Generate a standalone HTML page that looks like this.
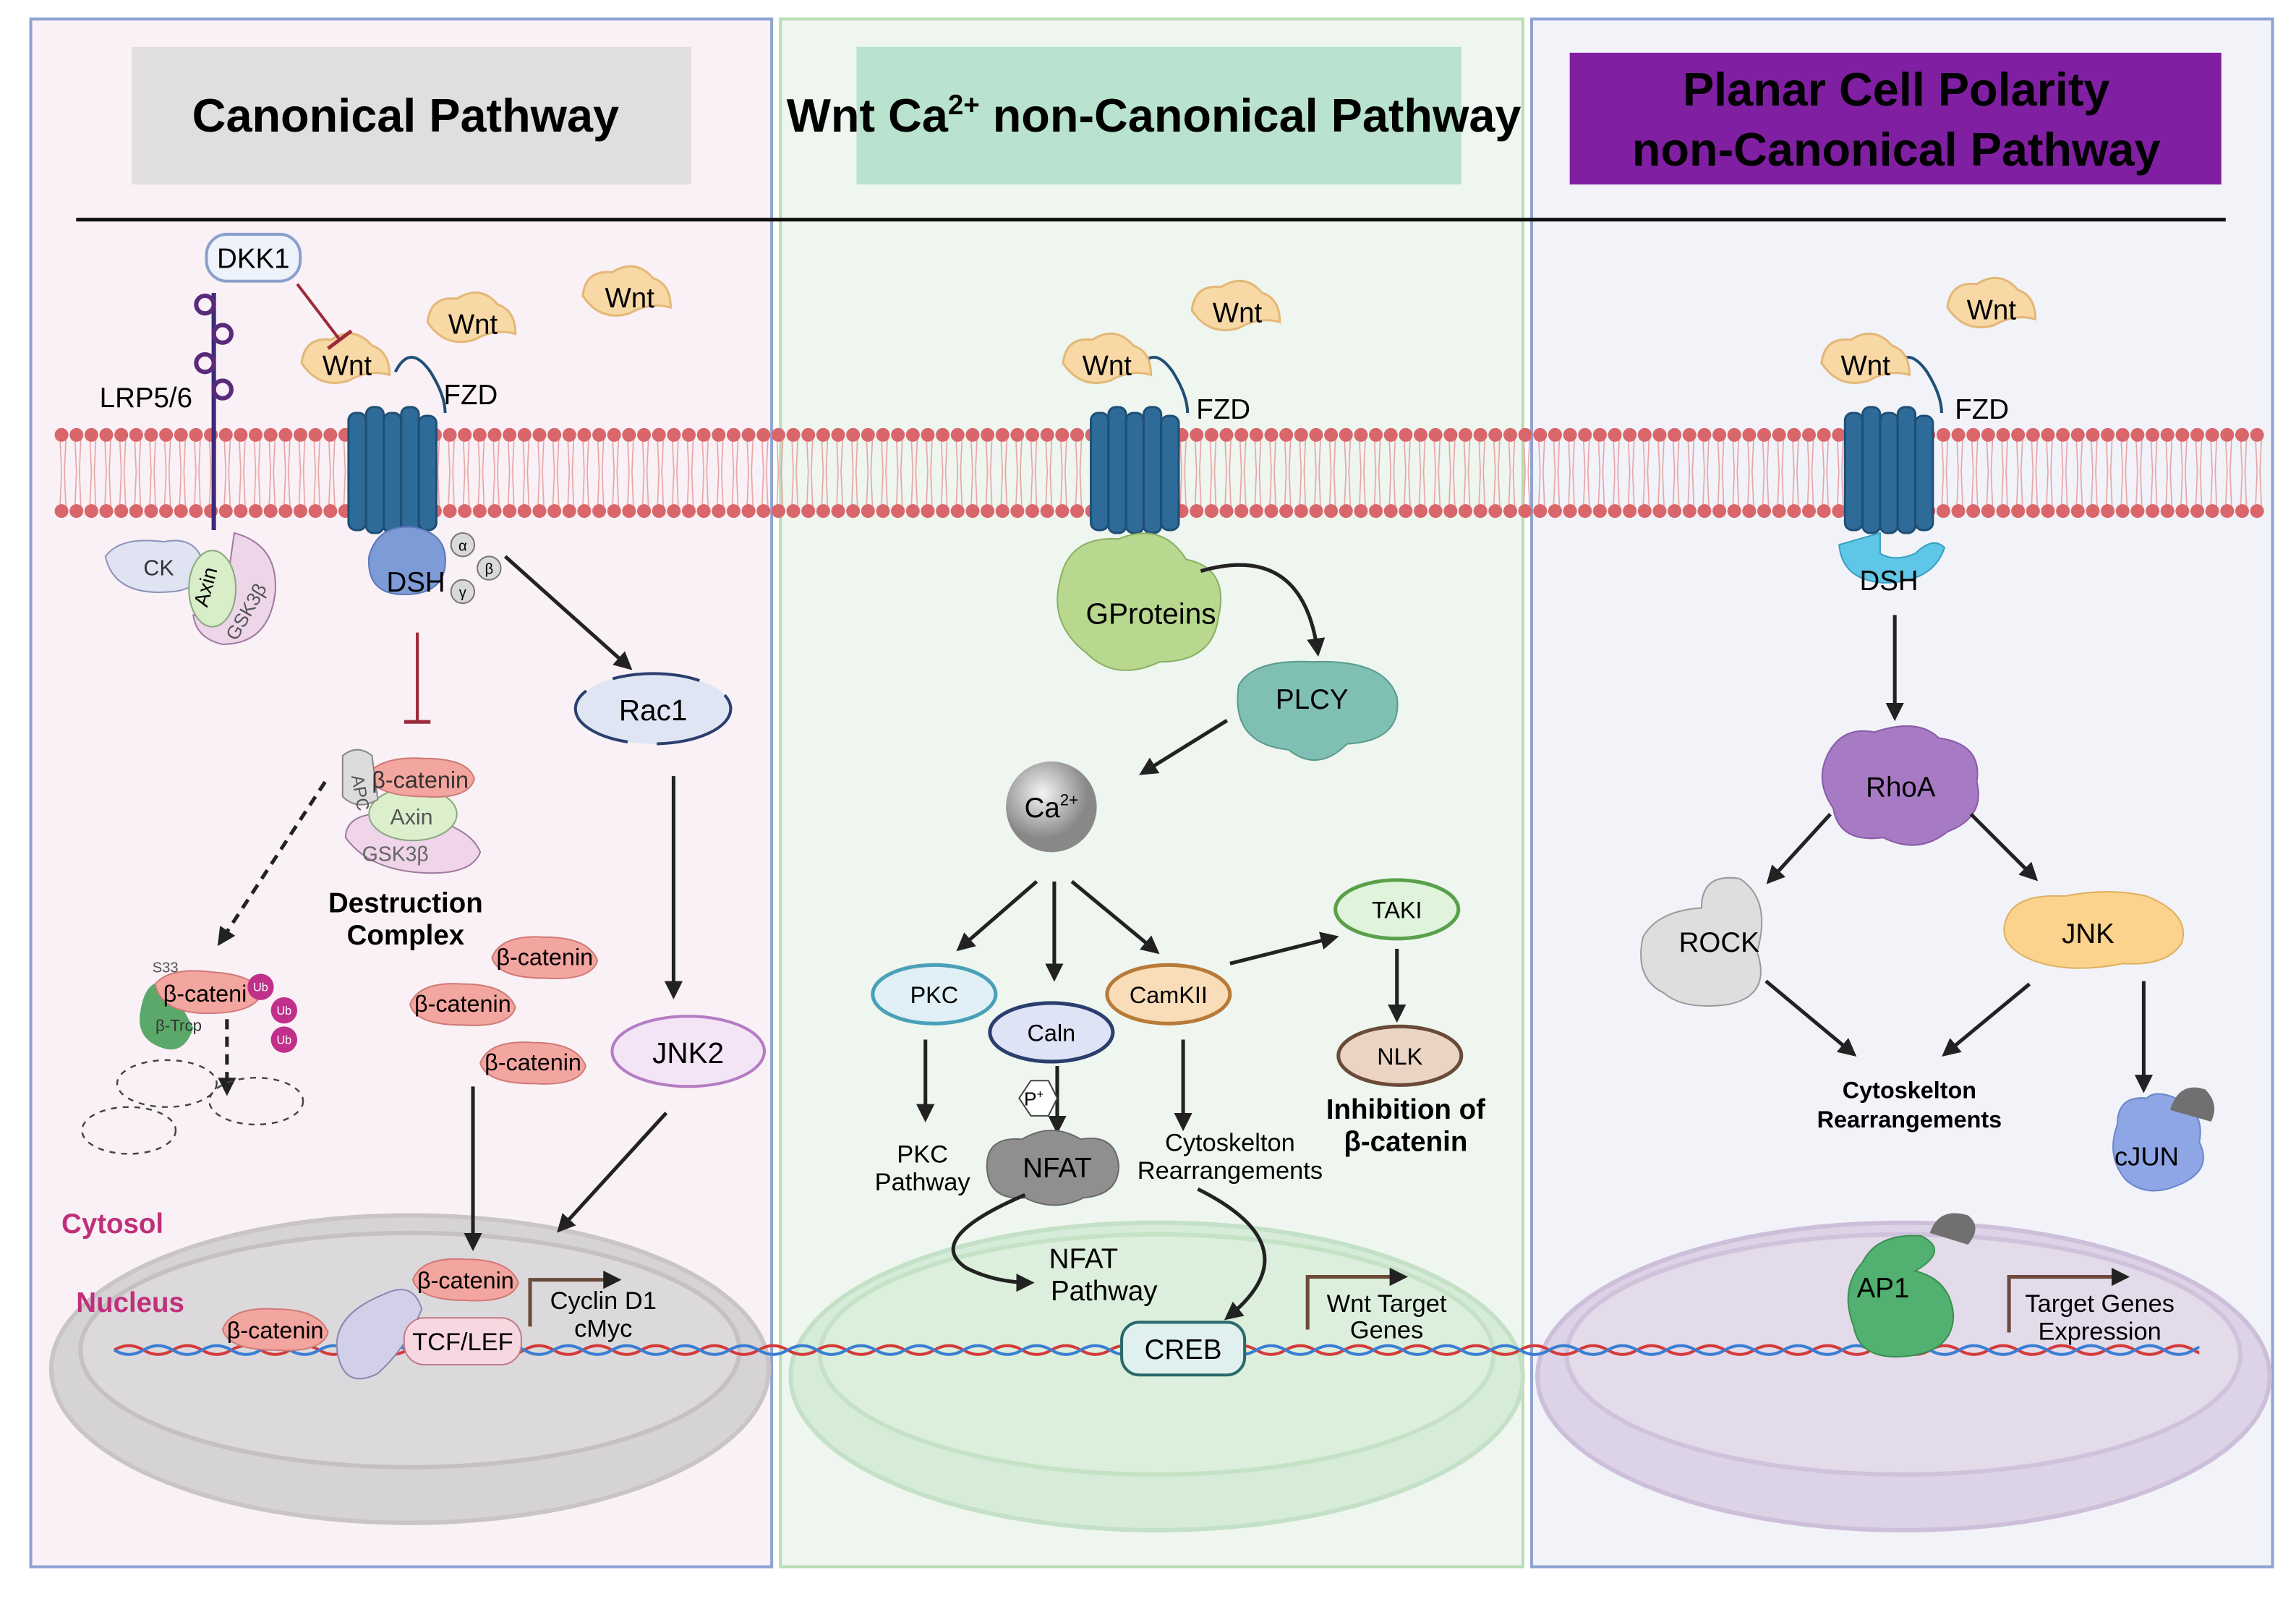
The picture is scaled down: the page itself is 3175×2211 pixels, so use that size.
<!DOCTYPE html>
<html><head><meta charset="utf-8"><style>
html,body{margin:0;padding:0;background:#fff;}
svg{display:block;}
text{font-family:"Liberation Sans",sans-serif;}
</style></head><body>
<svg width="3175" height="2211" viewBox="0 0 1568 1092" preserveAspectRatio="none" xmlns="http://www.w3.org/2000/svg">
<defs>
<marker id="ah" viewBox="0 0 10 10" refX="8" refY="5" markerWidth="5" markerHeight="5" orient="auto"><path d="M0,0 L10,5 L0,10 z" fill="#222"/></marker>
<pattern id="tails" x="38" y="300" width="10.2" height="46" patternUnits="userSpaceOnUse">
<path d="M3,0 L4,22 L3,46 M7,0 L6,22 L7,46" stroke="#e6a3a5" stroke-width="0.8" fill="none"/>
</pattern>
<clipPath id="dnaclip"><rect x="70" y="900" width="1432" height="50"/></clipPath>
</defs>
<rect width="1568" height="1092" fill="#fff"/>
<!-- panels -->
<rect x="21" y="13" width="506" height="1057" fill="#f9f1f6" stroke="#8fa4d4" stroke-width="2"/>
<rect x="533" y="13" width="507" height="1057" fill="#eef6ef" stroke="#b8deb8" stroke-width="2"/>
<rect x="1046" y="13" width="506" height="1057" fill="#f1f3f9" stroke="#8fa4d4" stroke-width="2"/>
<!-- titles -->
<rect x="90" y="32" width="382" height="94" fill="#e1dee1"/>
<text x="277" y="90" text-anchor="middle" font-size="32" font-weight="bold">Canonical Pathway</text>
<rect x="585" y="32" width="413" height="94" fill="#b9e3cf"/>
<text x="788" y="90" text-anchor="middle" font-size="32" font-weight="bold">Wnt Ca<tspan font-size="19" dy="-12">2+</tspan><tspan dy="12"> non-Canonical Pathway</tspan></text>
<rect x="1072" y="36" width="445" height="90" fill="#801fa2"/>
<text x="1295" y="72" text-anchor="middle" font-size="32" font-weight="bold">Planar Cell Polarity</text>
<text x="1295" y="113" text-anchor="middle" font-size="32" font-weight="bold">non-Canonical Pathway</text>
<line x1="52" y1="150" x2="1520" y2="150" stroke="#111" stroke-width="2.5"/>

<!-- nuclei -->
<g stroke-width="3">
<ellipse cx="280" cy="935" rx="245" ry="105" fill="#d6d3d6" stroke="#c8c4c8"/>
<ellipse cx="280" cy="922" rx="225" ry="80" fill="#dcd9dc" stroke="#c4c0c4"/>
<ellipse cx="790" cy="940" rx="250" ry="105" fill="#d6ecd8" stroke="#c4e0c6"/>
<ellipse cx="790" cy="925" rx="230" ry="82" fill="#dcefdc" stroke="#c6e2c6"/>
<ellipse cx="1300" cy="940" rx="250" ry="105" fill="#ddd3e6" stroke="#cdbfd9"/>
<ellipse cx="1300" cy="925" rx="230" ry="82" fill="#e3daea" stroke="#cfc3dc"/>
</g>
<!-- DNA -->
<g clip-path="url(#dnaclip)">
<path d="M78,922 q10,-6 20,0 t20,0 t20,0 t20,0 t20,0 t20,0 t20,0 t20,0 t20,0 t20,0 t20,0 t20,0 t20,0 t20,0 t20,0 t20,0 t20,0 t20,0 t20,0 t20,0 t20,0 t20,0 t20,0 t20,0 t20,0 t20,0 t20,0 t20,0 t20,0 t20,0 t20,0 t20,0 t20,0 t20,0 t20,0 t20,0 t20,0 t20,0 t20,0 t20,0 t20,0 t20,0 t20,0 t20,0 t20,0 t20,0 t20,0 t20,0 t20,0 t20,0 t20,0 t20,0 t20,0 t20,0 t20,0 t20,0 t20,0 t20,0 t20,0 t20,0 t20,0 t20,0 t20,0 t20,0 t20,0 t20,0 t20,0 t20,0 t20,0 t20,0 t20,0 t20,0 t20,0 t20,0 t20,0 t20,0" fill="none" stroke="#d43a3a" stroke-width="2"/>
<path d="M78,922 q10,6 20,0 t20,0 t20,0 t20,0 t20,0 t20,0 t20,0 t20,0 t20,0 t20,0 t20,0 t20,0 t20,0 t20,0 t20,0 t20,0 t20,0 t20,0 t20,0 t20,0 t20,0 t20,0 t20,0 t20,0 t20,0 t20,0 t20,0 t20,0 t20,0 t20,0 t20,0 t20,0 t20,0 t20,0 t20,0 t20,0 t20,0 t20,0 t20,0 t20,0 t20,0 t20,0 t20,0 t20,0 t20,0 t20,0 t20,0 t20,0 t20,0 t20,0 t20,0 t20,0 t20,0 t20,0 t20,0 t20,0 t20,0 t20,0 t20,0 t20,0 t20,0 t20,0 t20,0 t20,0 t20,0 t20,0 t20,0 t20,0 t20,0 t20,0 t20,0 t20,0 t20,0 t20,0 t20,0 t20,0" fill="none" stroke="#3a7ed4" stroke-width="2"/>
</g>

<!-- membrane -->
<rect x="38" y="300" width="1510" height="46" fill="url(#tails)"/>
<line x1="42" y1="297" x2="1548" y2="297" stroke="#d9666a" stroke-width="9.4" stroke-dasharray="0 10.2" stroke-linecap="round"/>
<line x1="42" y1="349" x2="1548" y2="349" stroke="#d9666a" stroke-width="9.4" stroke-dasharray="0 10.2" stroke-linecap="round"/>

<!-- FZD receptors -->
<g id="fzd" fill="#2e6b98" stroke="#1f4f75" stroke-width="1.5">
<rect x="238" y="282" width="12" height="80" rx="5"/><rect x="250" y="278" width="12" height="86" rx="5"/>
<rect x="262" y="282" width="12" height="82" rx="5"/><rect x="274" y="278" width="12" height="86" rx="5"/>
<rect x="286" y="284" width="12" height="78" rx="5"/>
</g>
<path d="M270,254 q10,-20 24,0 q10,16 10,28" fill="none" stroke="#1f4f75" stroke-width="2"/>
<use href="#fzd" x="507"/>
<use href="#fzd" x="1022"/>
<path d="M777,254 q10,-20 24,0 q10,16 10,28" fill="none" stroke="#1f4f75" stroke-width="2"/>
<path d="M1292,254 q10,-20 24,0 q10,16 10,28" fill="none" stroke="#1f4f75" stroke-width="2"/>
<text x="303" y="276" font-size="19">FZD</text>
<text x="817" y="286" font-size="19">FZD</text>
<text x="1335" y="286" font-size="19">FZD</text>

<!-- Wnt blobs -->
<g fill="#f8d9a6" stroke="#e3b878" stroke-width="1.5">
<path d="M206,248 q2,-18 20,-16 q16,-10 28,4 q12,4 12,20 q-14,-4 -28,4 q-20,6 -32,-12z"/>
<path d="M292,220 q2,-18 20,-16 q16,-10 28,4 q12,4 12,20 q-14,-4 -28,4 q-20,6 -32,-12z"/>
<path d="M398,202 q2,-18 20,-16 q16,-10 28,4 q12,4 12,20 q-14,-4 -28,4 q-20,6 -32,-12z"/>
<path d="M726,248 q2,-18 20,-16 q16,-10 28,4 q12,4 12,20 q-14,-4 -28,4 q-20,6 -32,-12z"/>
<path d="M814,212 q2,-18 20,-16 q16,-10 28,4 q12,4 12,20 q-14,-4 -28,4 q-20,6 -32,-12z"/>
<path d="M1244,248 q2,-18 20,-16 q16,-10 28,4 q12,4 12,20 q-14,-4 -28,4 q-20,6 -32,-12z"/>
<path d="M1330,210 q2,-18 20,-16 q16,-10 28,4 q12,4 12,20 q-14,-4 -28,4 q-20,6 -32,-12z"/>
</g>
<g font-size="19" text-anchor="middle">
<text x="237" y="256">Wnt</text><text x="323" y="228">Wnt</text><text x="430" y="210">Wnt</text>
<text x="756" y="256">Wnt</text><text x="845" y="220">Wnt</text>
<text x="1274" y="256">Wnt</text><text x="1360" y="218">Wnt</text>
</g>

<!-- Canonical panel -->
<rect x="141" y="160" width="64" height="32" rx="14" fill="#eef2fb" stroke="#8aa0cc" stroke-width="2"/>
<text x="173" y="183" text-anchor="middle" font-size="19">DKK1</text>
<line x1="203" y1="194" x2="232" y2="232" stroke="#9c2a3a" stroke-width="2"/>
<line x1="224" y1="238" x2="240" y2="226" stroke="#9c2a3a" stroke-width="2.5"/>
<line x1="146" y1="200" x2="146" y2="362" stroke="#3b2a78" stroke-width="3"/>
<g fill="none" stroke="#5a2a7a" stroke-width="3">
<circle cx="140" cy="208" r="6"/><circle cx="152" cy="228" r="6"/><circle cx="140" cy="248" r="6"/><circle cx="152" cy="266" r="6"/>
</g>
<text x="68" y="278" font-size="19">LRP5/6</text>
<path d="M72,380 q10,-14 40,-10 q20,-4 26,12 q2,20 -20,22 q-40,4 -46,-24z" fill="#dfe3f2" stroke="#8a94b8"/>
<text x="98" y="393" font-size="15" fill="#333">CK</text>
<path d="M160,364 q30,8 28,40 q-4,36 -36,36 q-18,-4 -20,-20 q16,4 22,-14z" fill="#eed6ea" stroke="#a07aa0"/>
<ellipse cx="145" cy="402" rx="16" ry="26" fill="#d8eec8" stroke="#8aa880"/>
<text x="145" y="402" font-size="14" text-anchor="middle" transform="rotate(-75 145 402)">Axin</text>
<text x="172" y="420" font-size="13" text-anchor="middle" fill="#555" transform="rotate(-60 172 420)">GSK3β</text>
<!-- DSH -->
<path d="M252,380 q6,-22 30,-20 q24,4 22,26 q-2,20 -28,20 q-26,0 -24,-26z" fill="#7d9bd6" stroke="#5a78b8"/>
<text x="284" y="404" text-anchor="middle" font-size="19">DSH</text>
<g fill="#d9d9d9" stroke="#777">
<circle cx="316" cy="372" r="8"/><circle cx="334" cy="388" r="8"/><circle cx="316" cy="404" r="8"/>
</g>
<g font-size="10" text-anchor="middle"><text x="316" y="376">α</text><text x="334" y="392">β</text><text x="316" y="408">γ</text></g>
<line x1="345" y1="380" x2="430" y2="456" stroke="#222" stroke-width="2.5" marker-end="url(#ah)"/>
<line x1="285" y1="432" x2="285" y2="492" stroke="#9c2a3a" stroke-width="2"/>
<line x1="276" y1="493" x2="294" y2="493" stroke="#9c2a3a" stroke-width="2.5"/>
<!-- Rac1 -->
<ellipse cx="446" cy="484" rx="53" ry="24" fill="#dfe5f2" stroke="#2a3f6e" stroke-width="2" stroke-dasharray="60 20"/>
<text x="446" y="492" text-anchor="middle" font-size="20">Rac1</text>
<line x1="460" y1="530" x2="460" y2="680" stroke="#222" stroke-width="2.5" marker-end="url(#ah)"/>
<ellipse cx="470" cy="718" rx="52" ry="24" fill="#f3e4f6" stroke="#b57cc4" stroke-width="2"/>
<text x="470" y="726" text-anchor="middle" font-size="20">JNK2</text>
<line x1="455" y1="760" x2="382" y2="840" stroke="#222" stroke-width="2.5" marker-end="url(#ah)"/>
<!-- destruction complex -->
<path d="M236,572 q0,-20 40,-16 q44,6 52,26 q-6,16 -40,14 q-36,-2 -52,-24z" fill="#efd4ea" stroke="#a07aa0"/>
<ellipse cx="282" cy="556" rx="30" ry="18" fill="#dcefcc" stroke="#8aa880"/>
<path d="M250,530 q10,-14 40,-12 q30,0 34,14 q-4,14 -34,12 q-32,0 -40,-14z" fill="#f3a5a0" stroke="#d07a76"/>
<path d="M234,516 q10,-8 20,0 l4,30 q-14,8 -24,-2z" fill="#dcdcdc" stroke="#888"/>
<text x="287" y="538" text-anchor="middle" font-size="16" fill="#333">β-catenin</text>
<text x="281" y="563" text-anchor="middle" font-size="15" fill="#555">Axin</text>
<text x="270" y="588" text-anchor="middle" font-size="14" fill="#666">GSK3β</text>
<text x="240" y="530" font-size="12" fill="#555" transform="rotate(80 240 530)">APC</text>
<text x="277" y="623" text-anchor="middle" font-size="19" font-weight="bold">Destruction</text>
<text x="277" y="645" text-anchor="middle" font-size="19" font-weight="bold">Complex</text>
<line x1="222" y1="534" x2="150" y2="644" stroke="#222" stroke-width="2.5" stroke-dasharray="7 5" marker-end="url(#ah)"/>
<!-- ubiquitinated -->
<path d="M96,690 q4,-24 20,-18 l16,30 q-6,18 -20,14 q-20,-6 -16,-26z" fill="#5aa86a"/>
<path d="M106,672 q10,-12 40,-8 q30,2 32,16 q-6,12 -36,12 q-32,0 -36,-20z" fill="#f3a5a0" stroke="#d07a76"/>
<text x="140" y="684" text-anchor="middle" font-size="16">β-cateni</text>
<text x="122" y="704" text-anchor="middle" font-size="11" fill="#333">β-Trcp</text>
<text x="104" y="664" font-size="10" fill="#555">S33</text>
<g fill="#c0308a"><circle cx="178" cy="674" r="9"/><circle cx="194" cy="690" r="9"/><circle cx="194" cy="710" r="9"/></g>
<g font-size="8" fill="#fff" text-anchor="middle"><text x="178" y="677">Ub</text><text x="194" y="693">Ub</text><text x="194" y="713">Ub</text></g>
<line x1="155" y1="696" x2="155" y2="746" stroke="#222" stroke-width="2.5" stroke-dasharray="7 5" marker-end="url(#ah)"/>
<g fill="none" stroke="#444" stroke-dasharray="4 4" stroke-width="1.2">
<ellipse cx="114" cy="740" rx="34" ry="16"/><ellipse cx="175" cy="752" rx="32" ry="16"/><ellipse cx="88" cy="772" rx="32" ry="16"/>
</g>
<!-- free beta-catenin -->
<g fill="#f3a5a0" stroke="#d07a76">
<path d="M336,654 q6,-16 36,-14 q30,0 36,16 q-4,14 -36,12 q-32,0 -36,-14z"/>
<path d="M280,686 q6,-16 36,-14 q30,0 36,16 q-4,14 -36,12 q-32,0 -36,-14z"/>
<path d="M328,726 q6,-16 36,-14 q30,0 36,16 q-4,14 -36,12 q-32,0 -36,-14z"/>
<path d="M282,874 q6,-16 36,-14 q30,0 36,16 q-4,14 -36,12 q-32,0 -36,-14z"/>
<path d="M152,908 q6,-16 36,-14 q30,0 36,16 q-4,14 -36,12 q-32,0 -36,-14z"/>
</g>
<g font-size="16" text-anchor="middle">
<text x="372" y="659">β-catenin</text><text x="316" y="691">β-catenin</text><text x="364" y="731">β-catenin</text>
<text x="318" y="880">β-catenin</text><text x="188" y="914">β-catenin</text>
</g>
<line x1="323" y1="742" x2="323" y2="852" stroke="#222" stroke-width="2.5" marker-end="url(#ah)"/>
<path d="M232,930 q-10,-30 30,-46 q20,-10 26,10 q-10,26 -30,44 q-20,10 -26,-8z" fill="#d2d0e8" stroke="#8a88b0"/>
<rect x="276" y="900" width="80" height="32" rx="14" fill="#f8d8e0" stroke="#c07a8a"/>
<text x="316" y="922" text-anchor="middle" font-size="17">TCF/LEF</text>
<path d="M362,906 v-32 h60" fill="none" stroke="#6b4a3a" stroke-width="2.5" marker-end="url(#ah)"/>
<text x="412" y="894" text-anchor="middle" font-size="17">Cyclin D1</text>
<text x="412" y="913" text-anchor="middle" font-size="17">cMyc</text>
<text x="42" y="842" font-size="19" font-weight="bold" fill="#c0307a">Cytosol</text>
<text x="52" y="896" font-size="19" font-weight="bold" fill="#c0307a">Nucleus</text>

<!-- Ca panel -->
<path d="M724,396 q6,-30 40,-28 q30,-12 46,14 q30,6 22,40 q-4,30 -40,30 q-30,14 -50,-6 q-26,-20 -18,-50z" fill="#b8d890" stroke="#8ab062"/>
<text x="786" y="426" text-anchor="middle" font-size="20">GProteins</text>
<path d="M820,390 q70,-20 80,56" fill="none" stroke="#222" stroke-width="2.5" marker-end="url(#ah)"/>
<path d="M846,468 q10,-18 50,-16 q50,-2 58,24 q4,30 -34,32 q-20,20 -40,4 q-40,-4 -34,-44z" fill="#7fbfb4" stroke="#5a9a90"/>
<text x="896" y="484" text-anchor="middle" font-size="19">PLCY</text>
<line x1="838" y1="492" x2="780" y2="528" stroke="#222" stroke-width="2.5" marker-end="url(#ah)"/>
<defs><radialGradient id="ca" cx="0.4" cy="0.35"><stop offset="0" stop-color="#f4f4f4"/><stop offset="1" stop-color="#888"/></radialGradient></defs>
<circle cx="718" cy="551" r="31" fill="url(#ca)"/>
<text x="718" y="558" text-anchor="middle" font-size="19">Ca<tspan font-size="11" dy="-8">2+</tspan></text>
<line x1="708" y1="602" x2="655" y2="648" stroke="#222" stroke-width="2.5" marker-end="url(#ah)"/>
<line x1="720" y1="602" x2="720" y2="668" stroke="#222" stroke-width="2.5" marker-end="url(#ah)"/>
<line x1="732" y1="602" x2="790" y2="650" stroke="#222" stroke-width="2.5" marker-end="url(#ah)"/>
<ellipse cx="638" cy="679" rx="42" ry="20" fill="#e0f0f6" stroke="#4aa0b8" stroke-width="2.5"/>
<text x="638" y="685" text-anchor="middle" font-size="16">PKC</text>
<ellipse cx="718" cy="705" rx="42" ry="20" fill="#dfe3f6" stroke="#2a3f6e" stroke-width="2.5"/>
<text x="718" y="711" text-anchor="middle" font-size="16">Caln</text>
<ellipse cx="798" cy="679" rx="42" ry="20" fill="#f8ddb8" stroke="#b87a38" stroke-width="2.5"/>
<text x="798" y="685" text-anchor="middle" font-size="16">CamKII</text>
<line x1="840" y1="658" x2="912" y2="640" stroke="#222" stroke-width="2.5" marker-end="url(#ah)"/>
<ellipse cx="954" cy="621" rx="42" ry="20" fill="#e0f4dc" stroke="#5aa04a" stroke-width="2.5"/>
<text x="954" y="627" text-anchor="middle" font-size="16">TAKI</text>
<line x1="954" y1="648" x2="954" y2="696" stroke="#222" stroke-width="2.5" marker-end="url(#ah)"/>
<ellipse cx="956" cy="721" rx="42" ry="20" fill="#ecd4c4" stroke="#6a4a3a" stroke-width="2.5"/>
<text x="956" y="727" text-anchor="middle" font-size="16">NLK</text>
<text x="960" y="764" text-anchor="middle" font-size="19" font-weight="bold">Inhibition of</text>
<text x="960" y="786" text-anchor="middle" font-size="19" font-weight="bold">β-catenin</text>
<line x1="632" y1="710" x2="632" y2="764" stroke="#222" stroke-width="2.5" marker-end="url(#ah)"/>
<text x="630" y="794" text-anchor="middle" font-size="17">PKC</text>
<text x="630" y="813" text-anchor="middle" font-size="17">Pathway</text>
<line x1="722" y1="728" x2="722" y2="772" stroke="#222" stroke-width="2.5" marker-end="url(#ah)"/>
<polygon points="696,750 704,738 716,738 722,750 716,762 704,762" fill="#fff" stroke="#444"/>
<text x="706" y="755" text-anchor="middle" font-size="13">P<tspan font-size="8" dy="-5">+</tspan></text>
<path d="M674,796 q0,-20 24,-18 q20,-12 40,0 q24,-4 26,18 q0,20 -24,22 q-20,10 -40,0 q-26,2 -26,-22z" fill="#8f8f8f" stroke="#6a6a6a"/>
<text x="722" y="804" text-anchor="middle" font-size="19">NFAT</text>
<line x1="808" y1="710" x2="808" y2="770" stroke="#222" stroke-width="2.5" marker-end="url(#ah)"/>
<text x="840" y="786" text-anchor="middle" font-size="17">Cytoskelton</text>
<text x="840" y="805" text-anchor="middle" font-size="17">Rearrangements</text>
<path d="M700,816 q-70,30 -40,50 q20,10 44,10" fill="none" stroke="#222" stroke-width="2.5" marker-end="url(#ah)"/>
<text x="740" y="866" text-anchor="middle" font-size="19">NFAT</text>
<text x="754" y="888" text-anchor="middle" font-size="19">Pathway</text>
<path d="M818,812 q80,40 20,88" fill="none" stroke="#222" stroke-width="2.5" marker-end="url(#ah)"/>
<rect x="766" y="903" width="84" height="36" rx="12" fill="#e0f0ee" stroke="#2a6a6a" stroke-width="2"/>
<text x="808" y="928" text-anchor="middle" font-size="19">CREB</text>
<path d="M893,908 v-36 h66" fill="none" stroke="#6b4a3a" stroke-width="2.5" marker-end="url(#ah)"/>
<text x="947" y="896" text-anchor="middle" font-size="17">Wnt Target</text>
<text x="947" y="914" text-anchor="middle" font-size="17">Genes</text>

<!-- PCP panel -->
<path d="M1256,372 q2,24 30,26 q34,0 42,-24 q-8,-8 -20,4 q-14,6 -24,0 l0,-14z" fill="#5ec6e6" stroke="#3aa0c0"/>
<text x="1290" y="403" text-anchor="middle" font-size="19">DSH</text>
<line x1="1294" y1="420" x2="1294" y2="490" stroke="#222" stroke-width="2.5" marker-end="url(#ah)"/>
<path d="M1250,512 q10,-16 30,-12 q30,-10 44,4 q30,4 26,30 q6,24 -20,34 q-20,16 -44,4 q-30,4 -34,-20 q-14,-20 -2,-40z" fill="#a77ac4" stroke="#8a5aa8"/>
<text x="1298" y="544" text-anchor="middle" font-size="19">RhoA</text>
<line x1="1250" y1="556" x2="1208" y2="602" stroke="#222" stroke-width="2.5" marker-end="url(#ah)"/>
<line x1="1346" y1="556" x2="1390" y2="600" stroke="#222" stroke-width="2.5" marker-end="url(#ah)"/>
<path d="M1122,640 q10,-18 40,-20 q0,-24 26,-20 q22,14 12,50 q10,30 -20,36 q-30,4 -44,-8 q-20,-10 -14,-38z" fill="#dedede" stroke="#9a9a9a"/>
<text x="1174" y="650" text-anchor="middle" font-size="19">ROCK</text>
<path d="M1370,628 q6,-18 40,-16 q30,-6 56,0 q30,12 24,32 q-10,16 -40,14 q-40,8 -66,-4 q-20,-10 -14,-26z" fill="#fbd38c" stroke="#e0b060"/>
<text x="1426" y="644" text-anchor="middle" font-size="19">JNK</text>
<line x1="1206" y1="670" x2="1266" y2="720" stroke="#222" stroke-width="2.5" marker-end="url(#ah)"/>
<line x1="1386" y1="672" x2="1328" y2="720" stroke="#222" stroke-width="2.5" marker-end="url(#ah)"/>
<text x="1304" y="750" text-anchor="middle" font-size="16" font-weight="bold">Cytoskelton</text>
<text x="1304" y="770" text-anchor="middle" font-size="16" font-weight="bold">Rearrangements</text>
<line x1="1464" y1="670" x2="1464" y2="744" stroke="#222" stroke-width="2.5" marker-end="url(#ah)"/>
<path d="M1446,768 q0,-20 20,-18 q6,-6 20,0 q20,8 16,30 q10,20 -16,30 q-20,8 -34,-4 q-14,-16 -6,-38z" fill="#8ea6e6" stroke="#6a86cc"/>
<path d="M1482,758 q6,-20 24,-14 q10,10 4,22z" fill="#707070"/>
<text x="1466" y="796" text-anchor="middle" font-size="18">cJUN</text>
<path d="M1272,862 q10,-20 40,-18 q20,10 -4,24 q24,6 26,30 q0,24 -30,28 q-34,4 -38,-20 q-10,-26 6,-44z" fill="#52b070" stroke="#3a9050"/>
<path d="M1318,842 q6,-18 26,-12 q10,8 0,20z" fill="#707070"/>
<text x="1286" y="886" text-anchor="middle" font-size="19">AP1</text>
<path d="M1372,910 v-38 h80" fill="none" stroke="#6b4a3a" stroke-width="2.5" marker-end="url(#ah)"/>
<text x="1434" y="896" text-anchor="middle" font-size="17">Target Genes</text>
<text x="1434" y="915" text-anchor="middle" font-size="17">Expression</text>
</svg>
</body></html>
